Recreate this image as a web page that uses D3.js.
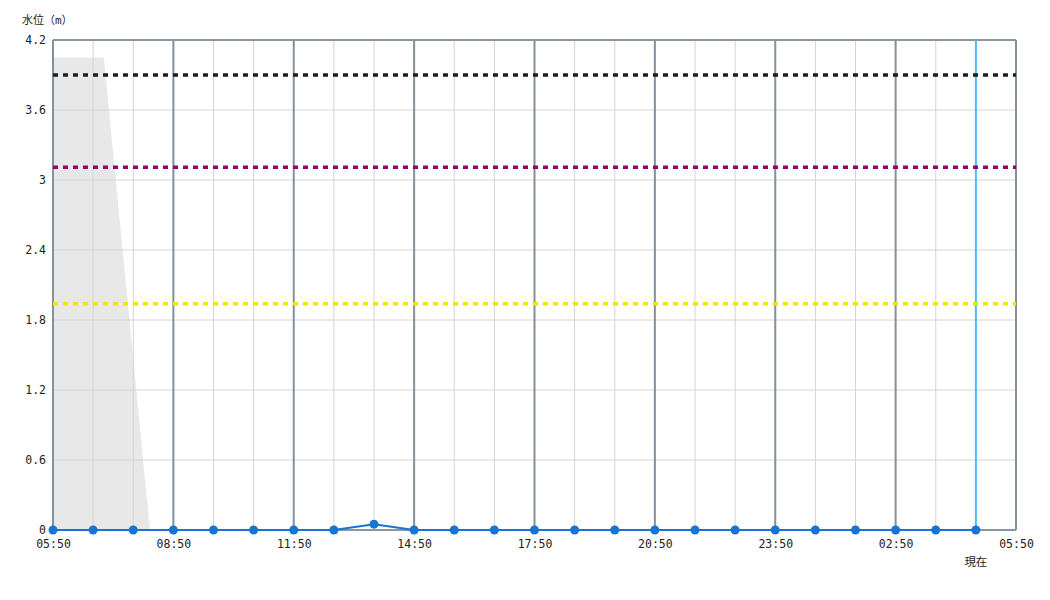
<!doctype html>
<html>
  <head>
    <meta charset="utf-8"/>
    <style>
      body { margin: 0; background: #fff; }
      text { font-family: "DejaVu Sans Mono", "Noto Sans CJK JP", monospace; }
    </style>
  </head>
  <body>
    <script src="https://cdn.jsdelivr.net/npm/d3@7"></script>
    <script>

      // hourly observations, 05:50 .. 04:50 next day
      const obsTimes = ['05:50', '06:50', '07:50', '08:50', '09:50', '10:50', '11:50', '12:50',
                        '13:50', '14:50', '15:50', '16:50', '17:50', '18:50', '19:50', '20:50',
                        '21:50', '22:50', '23:50', '00:50', '01:50', '02:50', '03:50', '04:50'];
      const waterLevel = [0, 0, 0, 0, 0, 0, 0, 0,
                          0.05, 0, 0, 0, 0, 0, 0, 0,
                          0, 0, 0, 0, 0, 0, 0, 0];

      // grey band in the background
      const bandTimes = ['05:50', '07:06', '08:15'];
      const bandValues = [4.05, 4.05, 0];

      // reference levels
      const refLevels = [3.9, 3.11, 1.94];
      const refColors = ['#1e1e1e', '#990066', '#f5e400'];

      const yTicks = [0, 0.6, 1.2, 1.8, 2.4, 3, 3.6, 4.2];
      const nowTime = '04:50';

      const width = 1050, height = 600;
      const margin = { top: 40, right: 34, bottom: 70, left: 53 };

      // turn 'HH:MM' into a date, rolling past midnight
      const start = new Date(2024, 0, 1, 5, 50);
      const toDate = s => {
        const [h, m] = s.split(':').map(Number);
        const d = new Date(2024, 0, 1, h, m);
        if (d < start) d.setDate(2);
        return d;
      };
      const end = new Date(2024, 0, 2, 5, 50);

      const x = d3.scaleTime()
            .domain([start, end])
            .range([margin.left, width - margin.right]);
      const y = d3.scaleLinear()
            .domain([0, 4.2])
            .range([height - margin.bottom, margin.top]);

      const svg = d3.create('svg')
            .attr('width', width)
            .attr('height', height);

      const band = bandTimes.map((t, i) => ({ t: toDate(t), v: bandValues[i] }));
      svg.append('path')
        .datum(band)
        .attr('fill', '#e8e8e8')
        .attr('d', d3.area().x(d => x(d.t)).y0(y(0)).y1(d => y(d.v)));

      const hours = d3.timeHour.every(1).range(start, d3.timeMinute.offset(end, 1))
            .map(d => d3.timeMinute.offset(d, 50));
      const hourly = d3.range(0, 25).map(i => d3.timeHour.offset(start, i));

      // light grid
      svg.append('g')
        .selectAll('line')
        .data(hourly.filter((d, i) => i % 3 !== 0))
        .join('line')
        .attr('x1', d => x(d)).attr('x2', d => x(d))
        .attr('y1', y(0)).attr('y2', y(4.2))
        .attr('stroke', '#d2d4d6')
        .attr('stroke-width', 1);

      svg.append('g')
        .selectAll('line')
        .data(yTicks.slice(1, -1))
        .join('line')
        .attr('x1', x(start)).attr('x2', x(end))
        .attr('y1', d => y(d)).attr('y2', d => y(d))
        .attr('stroke', '#d2d4d6')
        .attr('stroke-width', 1);

      // top and bottom border
      svg.append('g')
        .selectAll('line')
        .data([0, 4.2])
        .join('line')
        .attr('x1', x(start)).attr('x2', x(end))
        .attr('y1', d => y(d)).attr('y2', d => y(d))
        .attr('stroke', '#8a96a0')
        .attr('stroke-width', 2);

      // dark grid every 3 hours
      svg.append('g')
        .selectAll('line')
        .data(hourly.filter((d, i) => i % 3 === 0))
        .join('line')
        .attr('x1', d => x(d)).attr('x2', d => x(d))
        .attr('y1', y(0)).attr('y2', y(4.2))
        .attr('stroke', '#84919c')
        .attr('stroke-width', 2);

      // current time
      svg.append('line')
        .attr('x1', x(toDate(nowTime))).attr('x2', x(toDate(nowTime)))
        .attr('y1', y(0)).attr('y2', y(4.2))
        .attr('stroke', '#4dbcf4')
        .attr('stroke-width', 2);

      // reference levels
      svg.append('g')
        .selectAll('line')
        .data(refLevels)
        .join('line')
        .attr('x1', x(start)).attr('x2', x(end))
        .attr('y1', d => y(d)).attr('y2', d => y(d))
        .attr('stroke', (d, i) => refColors[i])
        .attr('stroke-width', 3.5)
        .attr('stroke-dasharray', '5,5');

      // axes
      const xAxis = d3.axisBottom(x)
            .tickValues(hourly.filter((d, i) => i % 3 === 0))
            .tickFormat(d3.timeFormat('%H:%M'))
            .tickSize(0)
            .tickPadding(10);
      svg.append('g')
        .attr('transform', `translate(0,${y(0)})`)
        .call(xAxis)
        .call(g => g.select('.domain').remove())
        .selectAll('text')
        .attr('font-family', null)
        .attr('font-size', 11.5)
        .attr('fill', '#222');

      const yAxis = d3.axisLeft(y)
            .tickValues(yTicks)
            .tickFormat(d => String(d))
            .tickSize(0)
            .tickPadding(7);
      svg.append('g')
        .attr('transform', `translate(${x(start)},0)`)
        .call(yAxis)
        .call(g => g.select('.domain').remove())
        .selectAll('text')
        .attr('font-family', null)
        .attr('font-size', 11.5)
        .attr('fill', '#222');

      // water level series
      const obs = obsTimes.map((t, i) => ({ t: toDate(t), v: waterLevel[i] }));
      svg.append('path')
        .datum(obs)
        .attr('fill', 'none')
        .attr('stroke', '#1874d2')
        .attr('stroke-width', 2)
        .attr('d', d3.line().x(d => x(d.t)).y(d => y(d.v)));

      svg.append('g')
        .selectAll('circle')
        .data(obs)
        .join('circle')
        .attr('cx', d => x(d.t))
        .attr('cy', d => y(d.v))
        .attr('r', 4.5)
        .attr('fill', '#1874d2');

      svg.append('text')
        .attr('x', 22).attr('y', 24)
        .attr('font-size', 11)
        .attr('fill', '#222')
        .text('水位（m）');

      svg.append('text')
        .attr('x', x(toDate(nowTime))).attr('y', 566)
        .attr('text-anchor', 'middle')
        .attr('font-size', 11.5)
        .attr('fill', '#222')
        .text('現在');

      document.body.append(svg.node());
    </script>
  </body>
</html>
